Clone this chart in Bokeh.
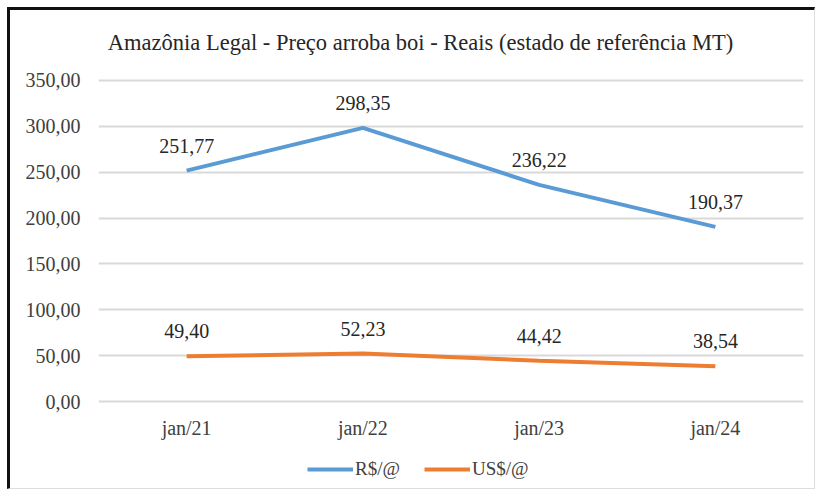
from bokeh.plotting import figure
from bokeh.models import FactorRange, Range1d, FixedTicker, ColumnDataSource, Legend, LegendItem, Label
from bokeh.core.properties import value
from bokeh.embed import file_html
from bokeh.resources import INLINE

categories = ["jan/21", "jan/22", "jan/23", "jan/24"]
reais = [251.77, 298.35, 236.22, 190.37]
dolar = [49.40, 52.23, 44.42, 38.54]
series_names = ["R$/@", "US$/@"]
y_ticks = [0, 50, 100, 150, 200, 250, 300, 350]
y_tick_labels = ["0,00", "50,00", "100,00", "150,00", "200,00", "250,00", "300,00", "350,00"]
title_text = "Amazônia Legal - Preço arroba boi - Reais (estado de referência MT)"

def fmt(v):
    return f"{v:.2f}".replace(".", ",")

FONT = "'Liberation Serif', 'Times New Roman', 'DejaVu Serif', serif"
BLUE = "#5B9BD5"
ORANGE = "#ED7D31"

# frame extends above 350 (title room) and below 0 (category labels and legend)
p = figure(x_range=FactorRange(*categories), y_range=Range1d(-88.3, 404.5),
           width=808, height=482, output_backend="svg", toolbar_location=None,
           min_border_left=88, min_border_right=15, min_border_top=20, min_border_bottom=10)
p.styles = {"border-left": "3px solid #111", "border-top": "3px solid #111",
            "border-right": "1px solid #ddd", "border-bottom": "1px solid #ddd",
            "margin-left": "7px", "margin-top": "7px"}
p.outline_line_color = None
p.background_fill_color = "white"

p.add_layout(Label(x=322, y=440, x_units="screen", y_units="screen", text=title_text,
                   text_align="center", text_baseline="middle", text_font=FONT,
                   text_font_size="22.5px", text_color="#262626"))

p.xaxis.visible = False
p.yaxis.ticker = FixedTicker(ticks=y_ticks)
p.yaxis.major_label_overrides = {t: l for t, l in zip(y_ticks, y_tick_labels)}
p.yaxis.axis_line_color = None
p.yaxis.major_tick_line_color = None
p.yaxis.minor_tick_line_color = None
p.yaxis.major_label_text_font = FONT
p.yaxis.major_label_text_font_size = "20px"
p.yaxis.major_label_text_color = "#404040"
p.yaxis.major_label_standoff = 12
p.xgrid.grid_line_color = None
p.ygrid.grid_line_color = "#d9d9d9"
p.ygrid.grid_line_width = 2

src = ColumnDataSource(dict(x=categories, r=reais, d=dolar, z=[0] * len(categories),
                            rl=[fmt(v) for v in reais], dl=[fmt(v) for v in dolar]))
# category labels under the zero line
p.text(x="x", y="z", text="x", source=src, y_offset=26, text_align="center",
       text_baseline="middle", text_font=value(FONT), text_font_size="20px",
       text_color="#404040")

l1 = p.line("x", "r", source=src, line_color=BLUE, line_width=4)
l2 = p.line("x", "d", source=src, line_color=ORANGE, line_width=4)
for col, lab in (("r", "rl"), ("d", "dl")):
    p.text(x="x", y=col, text=lab, source=src, y_offset=-25, text_align="center",
           text_baseline="middle", text_font=value(FONT), text_font_size="20px",
           text_color="#262626")

legend = Legend(items=[LegendItem(label=series_names[0], renderers=[l1]),
                       LegendItem(label=series_names[1], renderers=[l2])],
                orientation="horizontal", location=(209, 2),
                label_text_font=FONT, label_text_font_size="19px", label_text_color="#404040",
                glyph_width=46, label_standoff=2, spacing=24,
                border_line_color=None, background_fill_alpha=0, padding=2, margin=0)
p.add_layout(legend, "center")

open("out.html", "w").write(file_html(p, INLINE))
